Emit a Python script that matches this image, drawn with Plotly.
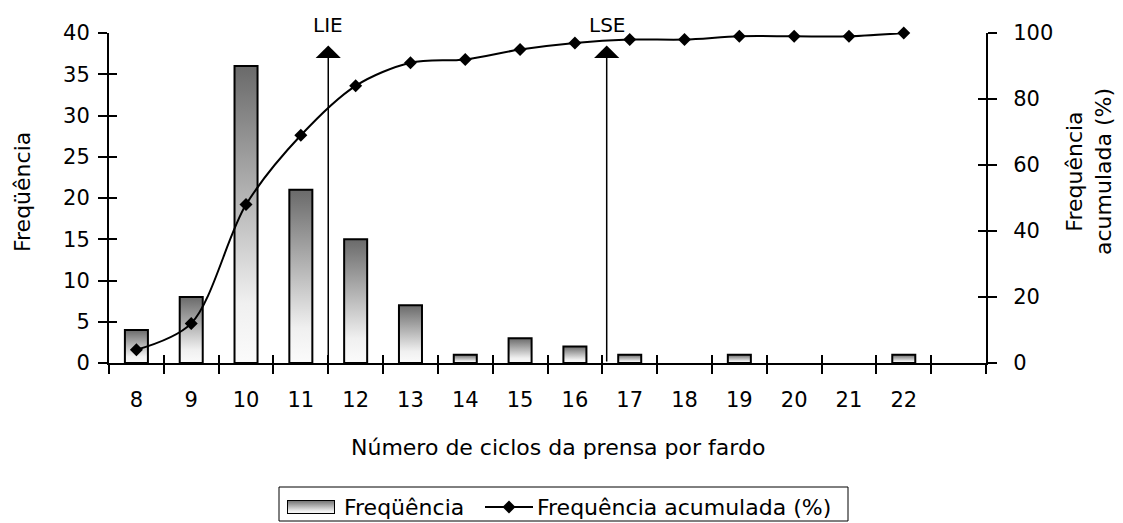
import plotly.graph_objects as go

# ---- data ----
categories = [8, 9, 10, 11, 12, 13, 14, 15, 16, 17, 18, 19, 20, 21, 22]
frequencia = [4, 8, 36, 21, 15, 7, 1, 3, 2, 1, 0, 1, 0, 0, 1]
acumulada = [4, 12, 48, 69, 84, 91, 92, 95, 97, 98, 98, 99, 99, 99, 100]
tick_labels = [str(c) for c in categories]
limits = {"LIE": 11.5, "LSE": 16.58}
limit_arrow_top = 38.5
legend_names = ["Freqüência", "Frequência acumulada (%)"]

FONT = "DejaVu Sans, Liberation Sans, Arial, sans-serif"
BAR_HALF = 0.21
W, H = 1123, 523


def px(x):
    return x / W


def py(y):
    return 1 - y / H


GRAD = [[0, "#fbfbfb"], [0.2, "#f0f0f0"], [1, "#6a6a6a"]]

fig = go.Figure()

for c, v in zip(categories, frequencia):
    if v <= 0:
        continue
    fig.add_trace(go.Scatter(
        x=[c - BAR_HALF, c - BAR_HALF, c + BAR_HALF, c + BAR_HALF, c - BAR_HALF],
        y=[0, v, v, 0, 0],
        mode="lines", fill="toself",
        fillgradient=dict(type="vertical", colorscale=GRAD, start=0, stop=v),
        line=dict(color="black", width=2),
        name=legend_names[0], showlegend=False, hoverinfo="skip",
        xaxis="x", yaxis="y",
    ))

fig.add_trace(go.Scatter(
    x=categories, y=acumulada,
    mode="lines+markers",
    line=dict(color="black", width=2, shape="spline", smoothing=0.9),
    marker=dict(symbol="diamond", size=10, color="black"),
    name=legend_names[1], showlegend=False, cliponaxis=False,
    xaxis="x", yaxis="y2",
))

# invisible traces binding the overlay axes (inside tick marks / labels)
for xa, ya in (("x2", "y3"), ("x3", "y4")):
    fig.add_trace(go.Scatter(x=[categories[0]], y=[0], mode="markers",
                             marker=dict(size=1, opacity=0), xaxis=xa, yaxis=ya,
                             showlegend=False, hoverinfo="skip"))

# legend glyphs (small inset subplots)
fig.add_trace(go.Scatter(
    x=[0, 0, 1, 1, 0], y=[0, 1, 1, 0, 0], mode="lines", fill="toself",
    fillgradient=dict(type="vertical", colorscale=GRAD, start=0, stop=1),
    line=dict(color="black", width=2), showlegend=False, hoverinfo="skip",
    xaxis="x4", yaxis="y5", cliponaxis=False))
fig.add_trace(go.Scatter(
    x=[0, 1], y=[0, 0], mode="lines", line=dict(color="black", width=2),
    showlegend=False, hoverinfo="skip", xaxis="x5", yaxis="y6", cliponaxis=False))
fig.add_trace(go.Scatter(
    x=[0.5], y=[0], mode="markers", marker=dict(symbol="diamond", size=10, color="black"),
    showlegend=False, hoverinfo="skip", xaxis="x5", yaxis="y6", cliponaxis=False))

xr = [categories[0] - 0.5, categories[-1] + 1.5]
bounds = [categories[0] - 0.5 + i for i in range(len(categories) + 2)]
tickf = dict(family=FONT, size=21, color="black")
titlef = dict(family=FONT, size=22, color="black")

for name, lbl in limits.items():
    fig.add_annotation(x=lbl, y=limit_arrow_top, ax=lbl, ay=0, xref="x", yref="y",
                       axref="x", ayref="y", text="", showarrow=True,
                       arrowhead=1, arrowsize=2.8, arrowwidth=1.5, arrowcolor="black")
    fig.add_annotation(x=lbl, y=py(25), xref="x", yref="paper", xanchor="center",
                       yanchor="middle", text=name, showarrow=False,
                       font=dict(family=FONT, size=20, color="black"))

# axis titles
fig.add_annotation(x=px(558), y=py(447), xref="paper", yref="paper", showarrow=False,
                   xanchor="center", yanchor="middle",
                   text="Número de ciclos da prensa por fardo", font=titlef)
fig.add_annotation(x=px(22), y=py(192), xref="paper", yref="paper", showarrow=False,
                   xanchor="center", yanchor="middle",
                   text="Freqüência", textangle=-90, font=titlef)
fig.add_annotation(x=px(1089), y=py(172), xref="paper", yref="paper", showarrow=False,
                   xanchor="center", yanchor="middle",
                   text="Frequência<br>acumulada (%)", textangle=-90, font=titlef)

# legend box and texts
fig.add_shape(type="rect", xref="paper", yref="paper", x0=px(279), x1=px(848),
              y0=py(521), y1=py(487), line=dict(color="black", width=1),
              fillcolor="rgba(0,0,0,0)", layer="below")
fig.add_annotation(x=px(342), y=py(507), xref="paper", yref="paper", xanchor="left",
                   yanchor="middle", showarrow=False, text=legend_names[0], font=titlef)
fig.add_annotation(x=px(535), y=py(507), xref="paper", yref="paper", xanchor="left",
                   yanchor="middle", showarrow=False, text=legend_names[1], font=titlef)

hidden = dict(visible=False, fixedrange=True, automargin=False)
common = dict(automargin=False, showgrid=False, zeroline=False)
fig.update_layout(
    width=W, height=H,
    margin=dict(l=0, r=0, t=0, b=0, autoexpand=False),
    paper_bgcolor="white", plot_bgcolor="rgba(0,0,0,0)",
    font=dict(family=FONT, size=21, color="black"),
    showlegend=False,
    xaxis=dict(domain=[px(109), px(986)], anchor="y", range=xr, tickmode="array", tickvals=bounds,
               ticks="outside", ticklen=9, tickwidth=2, tickcolor="black", showticklabels=False,
               showline=True, linecolor="black", linewidth=2, **common),
    xaxis2=dict(range=xr, overlaying="x", anchor="y", tickmode="array", tickvals=bounds,
                ticks="inside", ticklen=8, tickwidth=2, tickcolor="black",
                showticklabels=False, showline=False, **common),
    xaxis3=dict(range=xr, overlaying="x", anchor="y", side="bottom", tickmode="array",
                tickvals=categories, ticktext=tick_labels, ticks="", ticklabelstandoff=22,
                tickfont=tickf, showline=False, **common),
    yaxis=dict(domain=[py(363), py(33)], anchor="x", range=[0, 40], dtick=5, ticks="outside",
               ticklen=9, tickwidth=2, tickcolor="black", showline=True, linecolor="black",
               linewidth=2, tickfont=tickf, ticklabelstandoff=4, **common),
    yaxis3=dict(range=[0, 40], dtick=5, overlaying="y", anchor="x", ticks="inside", ticklen=8,
                tickwidth=2, tickcolor="black", showticklabels=False, showline=False, **common),
    yaxis2=dict(range=[0, 100], dtick=20, overlaying="y", side="right", anchor="x",
                ticks="outside", ticklen=9, tickwidth=2, tickcolor="black",
                showline=True, linecolor="black", linewidth=2,
                tickfont=tickf, ticklabelstandoff=12, **common),
    yaxis4=dict(range=[0, 100], dtick=20, overlaying="y", side="right", anchor="x",
                ticks="inside", ticklen=8, tickwidth=2, tickcolor="black",
                showticklabels=False, showline=False, **common),
    xaxis4=dict(domain=[px(287), px(335)], anchor="y5", range=[0, 1], **hidden),
    yaxis5=dict(domain=[py(514), py(500)], anchor="x4", range=[0, 1], **hidden),
    xaxis5=dict(domain=[px(485), px(533)], anchor="y6", range=[0, 1], **hidden),
    yaxis6=dict(domain=[py(517), py(497)], anchor="x5", range=[-1, 1], **hidden),
)

fig.write_html("out.html")
